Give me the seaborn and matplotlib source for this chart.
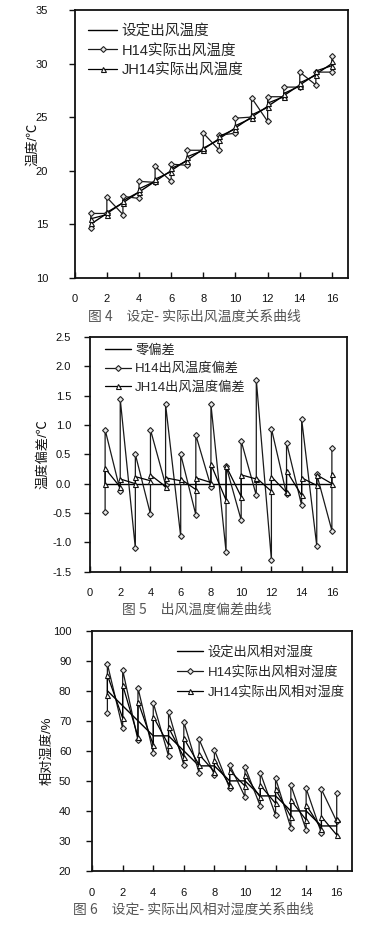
import numpy as np
import pandas as pd
import matplotlib
matplotlib.use("Agg")
import matplotlib.pyplot as plt
import seaborn as sns

# ---------------- data ----------------
hours = list(range(1, 17))
x_ticks = [0, 2, 4, 6, 8, 10, 12, 14, 16]

# Fig 4: outlet air temperature (set vs actual)
temp_set = [15, 16, 17, 18, 19, 20, 21, 22, 23, 24, 25, 26, 27, 28, 29, 30]
temp_h14_low = [14.6, 16.0, 15.9, 17.4, 18.9, 19.0, 20.5, 21.9, 21.9, 23.5, 25.0, 24.6, 26.9, 27.8, 28.0, 29.2]
temp_h14_high = [16.0, 17.5, 17.6, 19.0, 20.4, 20.6, 21.9, 23.5, 23.3, 24.9, 26.8, 26.9, 27.8, 29.2, 29.2, 30.7]
temp_jh14_low = [15.1, 15.9, 17.0, 18.0, 19.0, 19.9, 20.9, 21.9, 22.9, 23.9, 24.9, 25.9, 26.9, 27.9, 28.9, 29.8]
temp_jh14_high = [15.5, 16.1, 17.2, 18.3, 19.2, 20.2, 21.3, 22.1, 23.2, 24.2, 25.2, 26.3, 27.2, 28.2, 29.3, 30.2]
temp_yticks = [10, 15, 20, 25, 30, 35]

# Fig 5: temperature deviation
dev_zero = [0.0] * 16
dev_h14_low = [-0.48, -0.12, -1.10, -0.52, -0.02, -0.90, -0.53, -0.05, -1.16, -0.62, -0.20, -1.30, -0.18, -0.37, -1.06, -0.80]
dev_h14_high = [0.92, 1.44, 0.50, 0.92, 1.35, 0.50, 0.83, 1.35, 0.30, 0.73, 1.77, 0.94, 0.70, 1.10, 0.16, 0.60]
dev_jh14_low = [0.00, -0.06, 0.00, 0.05, -0.05, 0.05, -0.10, 0.02, -0.28, -0.22, 0.08, -0.13, -0.15, -0.20, -0.03, 0.00]
dev_jh14_high = [0.26, 0.08, 0.12, 0.15, 0.10, 0.08, 0.10, 0.33, 0.30, 0.15, 0.10, 0.12, 0.22, 0.10, 0.15, 0.17]
dev_yticks = [-1.5, -1.0, -0.5, 0.0, 0.5, 1.0, 1.5, 2.0, 2.5]

# Fig 6: outlet relative humidity
rh_set = [80, 75, 70, 65, 65, 60, 55, 55, 50, 50, 45, 45, 40, 40, 35, 35]
rh_h14_low = [72.5, 67.5, 63.5, 59.4, 58.3, 55.3, 52.7, 52.0, 47.5, 44.7, 41.6, 38.6, 34.4, 33.7, 32.6, 36.5]
rh_h14_high = [88.9, 86.9, 81.0, 76.0, 73.0, 69.6, 63.8, 60.3, 55.3, 54.7, 52.7, 50.9, 48.6, 47.5, 47.2, 46.1]
rh_jh14_low = [78.6, 70.9, 64.7, 62.0, 62.0, 57.9, 55.3, 53.0, 48.5, 48.3, 44.5, 42.5, 38.1, 37.0, 34.0, 32.0]
rh_jh14_high = [85.2, 81.9, 76.4, 71.4, 67.8, 64.2, 58.8, 57.0, 53.4, 52.0, 48.6, 47.2, 43.6, 42.0, 38.1, 37.2]
rh_yticks = [20, 30, 40, 50, 60, 70, 80, 90, 100]


def zigzag(low, high):
    x = np.repeat(hours, 2)
    y = np.column_stack([low, high]).ravel()
    return pd.DataFrame({"x": x, "y": y})


def straight(vals):
    return pd.DataFrame({"x": hours, "y": vals})


# ---------------- style ----------------
sns.set_style("ticks")
plt.rcParams["font.family"] = ["Liberation Sans", "Noto Sans CJK SC", "DejaVu Sans"]
plt.rcParams["axes.unicode_minus"] = False

fig = plt.figure(figsize=(3.75, 9.25), dpi=100)
W, H = 375.0, 925.0


def add_axes(left, right, top, bottom):
    return fig.add_axes([left / W, 1 - bottom / H, (right - left) / W, (bottom - top) / H])


h14_kw = dict(marker="D", markersize=3.0, markerfacecolor="#e6e6e6",
              markeredgecolor="#222222", markeredgewidth=0.8)
jh14_kw = dict(marker="^", markersize=3.6, markerfacecolor="white",
               markeredgecolor="#111111", markeredgewidth=0.8)


def draw(ax, set_df, h14_df, jh14_df, labels):
    sns.lineplot(data=set_df, x="x", y="y", ax=ax, color="black", lw=1.0,
                 estimator=None, sort=False, label=labels[0])
    sns.lineplot(data=h14_df, x="x", y="y", ax=ax, color="#1a1a1a", lw=0.9,
                 estimator=None, sort=False, label=labels[1], **h14_kw)
    sns.lineplot(data=jh14_df, x="x", y="y", ax=ax, color="black", lw=0.9,
                 estimator=None, sort=False, label=labels[2], **jh14_kw)


def style_axes(ax, ylim, yticks, ylab, ypad, xpad, label_x, fmt=None):
    ax.set_xlim(0, 17)
    ax.set_ylim(*ylim)
    ax.set_xticks(x_ticks)
    ax.set_yticks(yticks)
    if fmt:
        ax.set_yticklabels([fmt.format(v) for v in yticks])
    ax.set_xlabel("")
    ax.set_ylabel(ylab, fontsize=9.5, color="#111111")
    ax.yaxis.set_label_coords(label_x, 0.5)
    for sp in ax.spines.values():
        sp.set_visible(True)
        sp.set_linewidth(1.3)
        sp.set_color("#111111")
    ax.tick_params(axis="x", direction="in", length=4, width=1.0, pad=xpad,
                   labelsize=8, colors="#111111")
    ax.tick_params(axis="y", direction="out", length=4, width=1.0, pad=ypad,
                   labelsize=8, colors="#111111")


leg_common = dict(loc="upper left", frameon=False, handlelength=2.0,
                  handletextpad=0.3, borderpad=0, borderaxespad=0)

# ---- Fig 4 ----
ax1 = add_axes(74.7, 348, 10, 277.7)
draw(ax1, straight(temp_set), zigzag(temp_h14_low, temp_h14_high),
     zigzag(temp_jh14_low, temp_jh14_high),
     ["设定出风温度", "H14实际出风温度", "JH14实际出风温度"])
style_axes(ax1, (10, 35), temp_yticks, "温度/℃", ypad=15, xpad=12, label_x=-0.129)
ax1.legend(bbox_to_anchor=(0.0487, 0.946), fontsize=10.5, labelspacing=0.35,
           **leg_common)

# ---- Fig 5 ----
ax2 = add_axes(90, 347, 337, 571.7)
draw(ax2, straight(dev_zero), zigzag(dev_h14_low, dev_h14_high),
     zigzag(dev_jh14_low, dev_jh14_high),
     ["零偏差", "H14出风温度偏差", "JH14出风温度偏差"])
style_axes(ax2, (-1.5, 2.5), dev_yticks, "温度偏差/℃", ypad=9.5, xpad=11.5,
           label_x=-0.158, fmt="{:.1f}")
ax2.legend(bbox_to_anchor=(0.058, 0.969), fontsize=9.5, labelspacing=0.45,
           **leg_common)

# ---- Fig 6 ----
ax3 = add_axes(92.1, 352, 630.7, 871)
draw(ax3, straight(rh_set), zigzag(rh_h14_low, rh_h14_high),
     zigzag(rh_jh14_low, rh_jh14_high),
     ["设定出风相对湿度", "H14实际出风相对湿度", "JH14实际出风相对湿度"])
style_axes(ax3, (20, 100), rh_yticks, "相对湿度/%", ypad=11, xpad=12, label_x=-0.147)
ax3.legend(bbox_to_anchor=(0.327, 0.938), fontsize=9.5, labelspacing=0.55,
           **leg_common)

# ---- captions ----
cap_kw = dict(ha="left", va="center", fontsize=10, color="#555555",
              family=["Noto Sans CJK SC", "DejaVu Sans"])
fig.text(88 / W, 1 - 316.7 / H, "图 4　设定- 实际出风温度关系曲线", **cap_kw)
fig.text(122 / W, 1 - 610 / H, "图 5　出风温度偏差曲线", **cap_kw)
fig.text(73 / W, 1 - 910 / H, "图 6　设定- 实际出风相对湿度关系曲线", **cap_kw)

fig.savefig("out.png", dpi=100)
